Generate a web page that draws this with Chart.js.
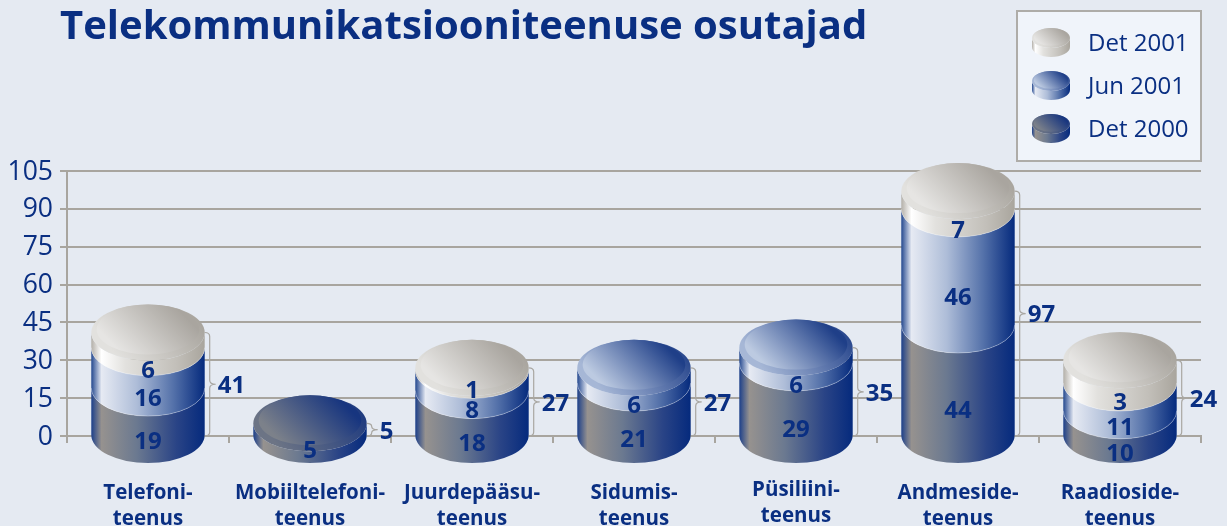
<!DOCTYPE html>
<html>
<head>
<meta charset="utf-8">
<style>
html, body { margin: 0; padding: 0; background: #e5eaf2; overflow: hidden; }
canvas { display: block; }
</style>
<script src="https://cdn.jsdelivr.net/npm/chart.js@4"></script>
</head>
<body>
<canvas id="chart" width="1227" height="526"></canvas>
<script>
const categories = [
    ['Telefoni-', 'teenus'],
    ['Mobiiltelefoni-', 'teenus'],
    ['Juurdepääsu-', 'teenus'],
    ['Sidumis-', 'teenus'],
    ['Püsiliini-', 'teenus'],
    ['Andmeside-', 'teenus'],
    ['Raadioside-', 'teenus']
];
const det2000 = [19, 5, 18, 21, 29, 44, 10];
const jun2001 = [16, 0, 8, 6, 6, 46, 11];
// the Raadioside band is drawn about 9 high in the picture but printed as 3
const det2001 = [6, 0, 1, 0, 0, 7, 9];
const det2001Printed = [6, 0, 1, 0, 0, 7, 3];
const totals = [41, 5, 27, 27, 35, 97, 24];
const yTicks = [0, 15, 30, 45, 60, 75, 90, 105];

const NAVY = '#0a2f82';
const GRID = '#a8a59f';
const FONT = '"Open Sans"';

// side and lid colours for each series, same order as the datasets
const looks = [
    {
        side: [[0, '#1c3f8a'], [0.09, '#96928f'], [0.4, '#6b7990'], [0.75, '#2a4486'], [1, '#052a7d']],
        lid: ['#17357f', '#7c818a'],
        rim: ['#1b387f', '#6c7485']
    },
    {
        side: [[0, '#24488f'], [0.09, '#e6eaf3'], [0.4, '#aebdd8'], [0.72, '#5572aa'], [1, '#052a7d']],
        lid: ['#1f3f88', '#bccae1'],
        rim: ['#23428a', '#a6b7d6']
    },
    {
        side: [[0, '#b3afa8'], [0.09, '#ffffff'], [0.3, '#e2e1de'], [0.75, '#c2bfb9'], [1, '#a9a59d']],
        lid: ['#a9a59f', '#e6e5e3'],
        rim: ['#a5a19a', '#e2e1de']
    }
];

function sideFill(ctx, cx, rx, look) {
    const g = ctx.createLinearGradient(cx - rx, 0, cx + rx, 0);
    look.side.forEach(s => g.addColorStop(s[0], s[1]));
    return g;
}

// one band of a cylinder, top and bottom edges follow the front of the ellipse
function drawBand(ctx, cx, rx, ry, yBottom, yTop, look, seam) {
    ctx.beginPath();
    ctx.moveTo(cx - rx, yTop);
    ctx.lineTo(cx - rx, yBottom);
    ctx.ellipse(cx, yBottom, rx, ry, 0, Math.PI, 0, true);
    ctx.lineTo(cx + rx, yTop);
    ctx.ellipse(cx, yTop, rx, ry, 0, 0, Math.PI, false);
    ctx.closePath();
    ctx.fillStyle = sideFill(ctx, cx, rx, look);
    ctx.fill();
    if (seam) {
        ctx.beginPath();
        ctx.ellipse(cx, yBottom, rx, ry, 0, Math.PI, 0, true);
        ctx.strokeStyle = 'rgba(255,255,255,0.3)';
        ctx.lineWidth = 1;
        ctx.stroke();
    }
}

function drawLid(ctx, cx, rx, ry, y, look) {
    let g = ctx.createLinearGradient(cx + rx * 0.8, y - ry, cx - rx * 0.5, y + ry);
    g.addColorStop(0, look.rim[0]);
    g.addColorStop(1, look.rim[1]);
    ctx.beginPath();
    ctx.ellipse(cx, y, rx, ry, 0, 0, Math.PI * 2);
    ctx.fillStyle = g;
    ctx.fill();

    const inRx = rx * 0.905, inRy = ry * 0.89, inY = y - ry * 0.11;
    g = ctx.createLinearGradient(cx + inRx * 0.5, inY - inRy, cx - inRx * 0.5, inY + inRy);
    g.addColorStop(0, look.lid[0]);
    g.addColorStop(1, look.lid[1]);
    ctx.beginPath();
    ctx.ellipse(cx, inY, inRx, inRy, 0, 0, Math.PI * 2);
    ctx.fillStyle = g;
    ctx.fill();
}

function drawBrace(ctx, x, top, bottom) {
    const h = bottom - top;
    const r = Math.min(4, h / 4);
    const bx = x + 5, tip = x + 11, mid = (top + bottom) / 2;
    ctx.beginPath();
    ctx.moveTo(x, top);
    ctx.quadraticCurveTo(bx, top, bx, top + r);
    ctx.lineTo(bx, mid - r);
    ctx.quadraticCurveTo(bx, mid, tip, mid);
    ctx.quadraticCurveTo(bx, mid, bx, mid + r);
    ctx.lineTo(bx, bottom - r);
    ctx.quadraticCurveTo(bx, bottom, x, bottom);
    ctx.strokeStyle = '#a9a7a2';
    ctx.lineWidth = 1.2;
    ctx.stroke();
}

const cylinders = {
    id: 'cylinders',
    afterDatasetsDraw(chart) {
        const ctx = chart.ctx;
        const sets = chart.data.datasets;
        const metas = sets.map((d, i) => chart.getDatasetMeta(i));
        ctx.save();
        categories.forEach((c, i) => {
            const first = metas[0].data[i];
            const cx = first.x, rx = first.width / 2, ry = rx * 0.495;
            let lidY = first.y, lidLook = looks[0];
            metas.forEach((meta, s) => {
                const bar = meta.data[i];
                if (!sets[s].data[i]) return;
                drawBand(ctx, cx, rx, ry, bar.base, bar.y, looks[s], s > 0);
                lidY = bar.y;
                lidLook = looks[s];
            });
            drawLid(ctx, cx, rx, ry, lidY, lidLook);

            // values on the front of the bands
            ctx.fillStyle = NAVY;
            ctx.font = 'bold 24px ' + FONT;
            ctx.textAlign = 'center';
            ctx.textBaseline = 'middle';
            metas.forEach((meta, s) => {
                const v = sets[s].data[i];
                if (!v) return;
                const bar = meta.data[i];
                const nudge = v < 6 ? -6 : 3;
                const shown = sets[s].printed ? sets[s].printed[i] : v;
                ctx.fillText(String(shown), cx, (bar.y + bar.base) / 2 + ry + nudge);
            });

            // total with its brace
            const zero = chart.scales.y.getPixelForValue(0);
            drawBrace(ctx, cx + rx, lidY, zero);
            ctx.fillStyle = NAVY;
            ctx.textAlign = 'left';
            ctx.fillText(String(totals[i]), cx + rx + 13, (lidY + zero) / 2 + 2);
        });
        ctx.restore();
    }
};

// legend box top right, mini cylinders and dataset names
const legendBox = {
    id: 'legendBox',
    afterDraw(chart) {
        const ctx = chart.ctx;
        ctx.save();
        ctx.fillStyle = '#f0f4fa';
        ctx.strokeStyle = '#aeaca8';
        ctx.lineWidth = 2;
        ctx.fillRect(1017, 11, 184, 150);
        ctx.strokeRect(1017, 11, 184, 150);
        const rows = [2, 1, 0];
        rows.forEach((s, r) => {
            const y = 42.5 + r * 43;
            drawBand(ctx, 1051, 19, 10, y + 4.5, y - 4.5, looks[s], false);
            drawLid(ctx, 1051, 19, 10, y - 4.5, looks[s]);
            ctx.fillStyle = NAVY;
            ctx.font = '24px ' + FONT;
            ctx.textAlign = 'left';
            ctx.textBaseline = 'middle';
            ctx.fillText(chart.data.datasets[s].label, 1088, y + 2);
        });
        ctx.restore();
    }
};

// title starts left of the plot area, Püsiliini label sits a little higher, y labels a little lower
const tweaks = {
    id: 'tweaks',
    afterLayout(chart) {
        chart.titleBlock.left = 60;
    },
    beforeDraw(chart) {
        const xItems = chart.scales.x.getLabelItems();
        const yItems = chart.scales.y.getLabelItems();
        if (!xItems.moved) {
            xItems[4].options.translation[1] -= 3;
            yItems.forEach(t => { t.options.translation[1] += 1; });
            xItems.moved = true;
        }
    }
};

new Chart(document.getElementById('chart'), {
    type: 'bar',
    data: {
        labels: categories,
        datasets: [
            { label: 'Det 2000', data: det2000, backgroundColor: 'transparent' },
            { label: 'Jun 2001', data: jun2001, backgroundColor: 'transparent' },
            { label: 'Det 2001', data: det2001, printed: det2001Printed, backgroundColor: 'transparent' }
        ]
    },
    options: {
        responsive: false,
        animation: false,
        layout: { padding: { right: 26, top: 0, left: 0, bottom: 0 } },
        datasets: { bar: { categoryPercentage: 1, barPercentage: 0.7 } },
        plugins: {
            legend: { display: false },
            tooltip: { enabled: false },
            title: {
                display: true,
                text: 'Telekommunikatsiooniteenuse osutajad',
                align: 'start',
                color: NAVY,
                font: { family: FONT, size: 40, weight: 'bold', lineHeight: 1.2 },
                padding: { top: 4, bottom: 119 }
            }
        },
        scales: {
            x: {
                stacked: true,
                afterFit: s => { s.height = 90; },
                border: { color: GRID, width: 2 },
                grid: { drawOnChartArea: false, color: GRID, lineWidth: 2, tickLength: 7 },
                ticks: {
                    color: NAVY,
                    padding: 37,
                    maxRotation: 0,
                    autoSkip: false,
                    font: { family: FONT, size: 20.5, weight: 'bold', lineHeight: 1.27 }
                }
            },
            y: {
                stacked: true,
                min: 0,
                max: 105,
                afterFit: s => { s.width = 67; },
                afterBuildTicks: s => { s.ticks = yTicks.map(v => ({ value: v })); },
                border: { color: GRID, width: 2 },
                grid: { color: GRID, lineWidth: 2, tickLength: 7 },
                ticks: {
                    color: NAVY,
                    padding: 7,
                    font: { family: FONT, size: 26.5 }
                }
            }
        }
    },
    plugins: [cylinders, legendBox, tweaks]
});
</script>
</body>
</html>
